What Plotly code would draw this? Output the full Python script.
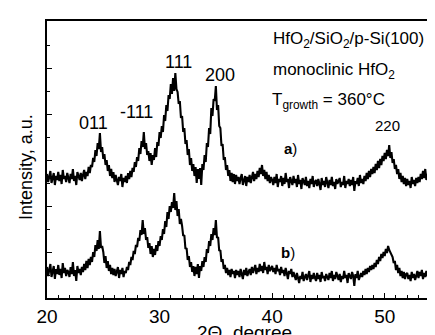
import numpy as np
import plotly.graph_objects as go

# Scan definition (2-theta, degrees)
SCAN_START = 20.0
SCAN_STEP = 0.1

# Intensity (a.u.), one row per degree, 20.0 .. 55.0
intensity_a = [
    124, 116, 121, 127, 115, 119, 125, 113, 122, 118,
    126, 117, 123, 114, 128, 119, 122, 116, 125, 120,
    115, 124, 119, 129, 117, 122, 113, 126, 120, 118,
    125, 117, 123, 128, 119, 126, 122, 131, 125, 133,
    131, 140, 136, 148, 142, 155, 149, 165, 146, 151,
    139, 144, 133, 138, 127, 133, 122, 129, 120, 126,
    116, 123, 118, 113, 121, 117, 124, 111, 120, 116,
    122, 115, 125, 119, 127, 121, 130, 126, 136, 131,
    141, 137, 150, 144, 157, 151, 166, 149, 155, 143,
    147, 137, 145, 133, 143, 138, 150, 141, 156, 152,
    166, 160, 172, 166, 183, 177, 193, 187, 203, 199,
    214, 204, 220, 207, 225, 209, 206, 194, 197, 180,
    182, 166, 170, 154, 158, 143, 149, 133, 140, 127,
    134, 122, 131, 115, 129, 119, 130, 113, 134, 128,
    143, 136, 155, 151, 170, 164, 190, 182, 199, 197,
    212, 188, 193, 172, 170, 152, 154, 138, 141, 128,
    133, 122, 128, 117, 125, 116, 124, 114, 123, 117,
    121, 114, 120, 124, 113, 119, 122, 112, 121, 116,
    123, 115, 120, 126, 117, 124, 119, 127, 121, 130,
    124, 133, 122, 128, 119, 126, 117, 123, 115, 121,
    118, 113, 121, 115, 124, 111, 119, 116, 122, 112,
    120, 114, 125, 116, 119, 110, 121, 117, 113, 122,
    115, 119, 111, 123, 114, 118, 109, 120, 116, 113,
    121, 112, 117, 110, 119, 114, 122, 111, 116, 118,
    112, 119, 114, 108, 120, 113, 117, 111, 121, 115,
    110, 118, 113, 121, 112, 116, 109, 119, 114, 117,
    120, 111, 116, 113, 122, 110, 117, 114, 119, 112,
    118, 113, 121, 107, 117, 114, 120, 112, 123, 115,
    119, 114, 122, 117, 125, 119, 127, 121, 129, 124,
    131, 125, 134, 128, 137, 130, 139, 133, 142, 137,
    145, 139, 148, 142, 153, 140, 146, 135, 139, 129,
    133, 124, 129, 119, 125, 116, 122, 114, 120, 112,
    119, 113, 117, 110, 121, 114, 118, 112, 120, 115,
    121, 116, 124, 119, 127, 120, 129, 118, 124, 117,
    122, 116, 125, 118, 121, 114, 126, 117, 123, 119,
    121,
]

intensity_b = [
    31, 22, 28, 34, 21, 26, 32, 19, 29, 24,
    33, 23, 29, 20, 35, 25, 30, 22, 28, 26,
    21, 31, 24, 36, 22, 28, 17, 32, 25, 29,
    23, 31, 26, 34, 28, 37, 30, 39, 33, 41,
    36, 46, 41, 53, 47, 58, 49, 67, 50, 52,
    46, 35, 42, 30, 37, 27, 33, 24, 30, 23,
    29, 22, 27, 31, 20, 28, 24, 30, 21, 27,
    25, 31, 28, 36, 33, 41, 38, 47, 44, 53,
    51, 60, 57, 68, 63, 78, 64, 70, 58, 61,
    50, 55, 44, 52, 41, 49, 43, 53, 47, 57,
    52, 62, 58, 69, 64, 77, 71, 86, 79, 92,
    86, 96, 90, 105, 88, 97, 82, 89, 74, 79,
    72, 62, 63, 49, 50, 38, 42, 31, 36, 26,
    32, 22, 31, 24, 34, 20, 32, 27, 37, 31,
    41, 36, 49, 45, 57, 52, 64, 58, 70, 63,
    78, 60, 61, 47, 48, 36, 39, 29, 33, 25,
    30, 23, 28, 21, 29, 24, 27, 20, 28, 23,
    27, 21, 29, 24, 19, 28, 23, 30, 22, 26,
    29, 23, 31, 25, 28, 33, 24, 30, 26, 34,
    27, 32, 25, 36, 28, 31, 24, 33, 27, 30,
    32, 26, 30, 24, 33, 27, 29, 23, 31, 25,
    28, 22, 30, 25, 19, 27, 24, 29, 21, 26,
    23, 18, 25, 20, 15, 22, 19, 26, 17, 21,
    24, 18, 22, 27, 16, 23, 19, 25, 20, 17,
    25, 19, 23, 16, 26, 20, 22, 17, 24, 21,
    18, 25, 20, 27, 17, 23, 19, 26, 21, 18,
    24, 16, 22, 19, 27, 20, 23, 15, 25, 21,
    19, 26, 22, 12, 24, 20, 27, 18, 23, 25,
    21, 27, 23, 29, 24, 30, 26, 32, 28, 33,
    29, 35, 31, 38, 34, 41, 37, 44, 40, 46,
    42, 49, 45, 52, 48, 46, 43, 41, 35, 37,
    28, 33, 25, 30, 22, 27, 20, 26, 19, 24,
    25, 19, 23, 17, 26, 20, 24, 18, 22, 27,
    20, 26, 22, 28, 19, 25, 21, 27, 23, 19,
    26, 21, 28, 22, 25, 29, 20, 27, 24, 30,
    25,
]

two_theta = np.round(SCAN_START + SCAN_STEP * np.arange(len(intensity_a)), 2)

# Reflection labels: (text, 2theta, intensity)
peak_labels = ["011", "-111", "111", "200", "220"]
peak_pos = [24.1, 27.95, 31.7, 35.4, 50.24]
peak_lab_y = [175, 186, 236, 223, 173]
peak_size = [18, 18, 18, 18, 15]

x_ticks = [20, 30, 40, 50]

FONT = "Liberation Sans, Arial, sans-serif"

fig = go.Figure()
fig.add_trace(go.Scatter(x=two_theta, y=intensity_a, mode="lines",
                         line=dict(color="black", width=2.1), showlegend=False))
fig.add_trace(go.Scatter(x=two_theta, y=intensity_b, mode="lines",
                         line=dict(color="black", width=2.1), showlegend=False))

ann = []
for t, x, y, s in zip(peak_labels, peak_pos, peak_lab_y, peak_size):
    ann.append(dict(x=x, y=y, text=t, showarrow=False, xanchor="center", yanchor="middle",
                    font=dict(family=FONT, size=s, color="black")))
ann.append(dict(x=41.6, y=150, text="<b>a</b>)", showarrow=False,
                font=dict(family=FONT, size=15, color="black")))
ann.append(dict(x=41.4, y=46, text="<b>b</b>)", showarrow=False,
                font=dict(family=FONT, size=15, color="black")))
ann.append(dict(x=39.9, y=258, text="HfO<sub>2</sub>/SiO<sub>2</sub>/p-Si(100)", showarrow=False,
                xanchor="left", yanchor="middle", font=dict(family=FONT, size=17, color="black")))
ann.append(dict(x=39.9, y=227, text="monoclinic HfO<sub>2</sub>", showarrow=False,
                xanchor="left", yanchor="middle", font=dict(family=FONT, size=17, color="black")))
ann.append(dict(x=39.8, y=197, text="T<sub>growth</sub> = 360°C", showarrow=False,
                xanchor="left", yanchor="middle", font=dict(family=FONT, size=17, color="black")))
# axis titles
ann.append(dict(xref="paper", yref="paper", x=0.5, y=0, yshift=-34, text="2Θ, degree",
                showarrow=False, xanchor="center", yanchor="middle",
                font=dict(family=FONT, size=19, color="black")))
ann.append(dict(xref="paper", yref="paper", x=0, y=0.473, xshift=-21, text="Intensity, a.u.",
                textangle=-90, showarrow=False, xanchor="center", yanchor="middle",
                font=dict(family=FONT, size=18, color="black")))

fig.update_layout(
    width=435, height=335,
    margin=dict(l=39, r=2, t=13, b=45, autoexpand=False),
    paper_bgcolor="white", plot_bgcolor="white",
    annotations=ann,
    xaxis=dict(range=[20, 55], tickvals=x_ticks, ticks="inside", ticklen=5, tickwidth=1.2,
               tickcolor="black", showgrid=False, zeroline=False, automargin=False,
               showline=True, linecolor="black", linewidth=1.5, mirror=True,
               tickfont=dict(family=FONT, size=19, color="black"),
               minor=dict(dtick=1, ticks="inside", ticklen=3, tickcolor="black", tickwidth=1)),
    yaxis=dict(range=[0, 277], tick0=0, dtick=46, ticks="inside", ticklen=5, tickwidth=1.2,
               tickcolor="black", showticklabels=False, showgrid=False, zeroline=False,
               automargin=False,
               showline=True, linecolor="black", linewidth=1.5, mirror=True,
               minor=dict(dtick=23, ticks="inside", ticklen=3, tickcolor="black", tickwidth=1)),
)

fig.write_html("out.html")
